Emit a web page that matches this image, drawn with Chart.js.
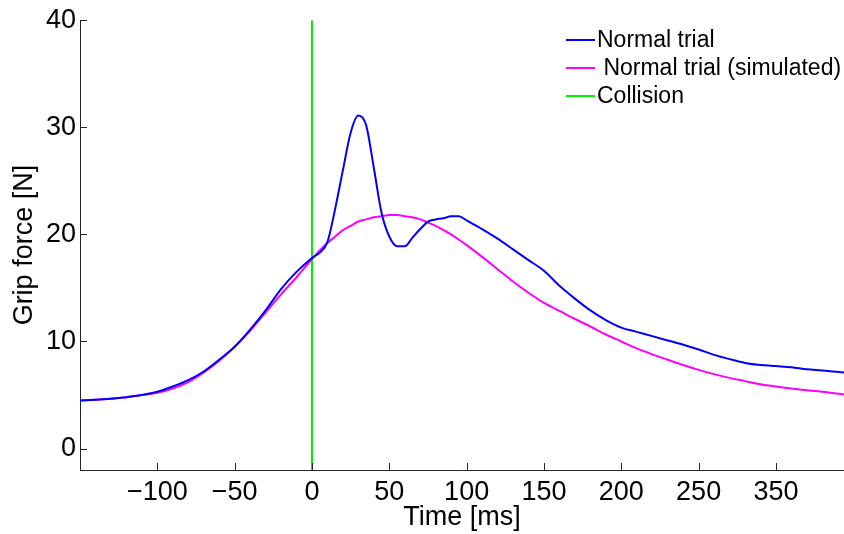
<!DOCTYPE html>
<html>
<head>
<meta charset="utf-8">
<script src="https://cdn.jsdelivr.net/npm/chart.js@4.4.1/dist/chart.umd.min.js"></script>
<style>
  html, body { margin: 0; padding: 0; background: #fff; }
  #wrap { width: 844px; height: 534px; position: relative; }
</style>
</head>
<body>
<div id="wrap"><canvas id="grip"></canvas></div>
<script>
/* ── DATA ───────────────────────────── */
const timeMs = [-150, -140, -130, -120, -110, -100, -90, -80, -70, -60, -50, -40, -30, -20, -10,
    0, 5, 10, 15, 20, 25, 30, 35, 40, 45, 50, 55, 60, 65, 70, 75, 80, 85, 90, 95, 100,
    110, 120, 130, 140, 150, 160, 170, 180, 190, 200, 210, 220, 230, 240, 250,
    260, 270, 280, 290, 300, 310, 320, 330, 344];

const normalTrial = [4.5, 4.55, 4.65, 4.8, 5.0, 5.3, 5.8, 6.4, 7.2, 8.3, 9.5, 11.1, 12.9, 14.9, 16.5,
    17.8, 18.3, 19.3, 22.4, 26.0, 29.5, 31.1, 30.2, 26.2, 22.0, 19.8, 18.9, 18.9, 19.7, 20.5, 21.2, 21.4, 21.5, 21.7, 21.7, 21.3,
    20.5, 19.6, 18.6, 17.6, 16.6, 15.2, 14.0, 12.9, 12.0, 11.3, 10.9, 10.5, 10.1, 9.7, 9.25,
    8.75, 8.35, 8.0, 7.8, 7.7, 7.6, 7.4, 7.3, 7.1];

const normalSimulated = [4.5, 4.55, 4.65, 4.8, 5.0, 5.2, 5.6, 6.2, 7.1, 8.2, 9.5, 11.0, 12.7, 14.4, 16.0,
    17.7, 18.5, 19.2, 19.8, 20.4, 20.8, 21.2, 21.4, 21.6, 21.7, 21.8, 21.8, 21.7, 21.6, 21.4, 21.1, 20.8, 20.4, 20.0, 19.5, 19.0,
    17.9, 16.75, 15.6, 14.55, 13.6, 12.85, 12.1, 11.4, 10.65, 10.0, 9.35, 8.8, 8.3, 7.8, 7.35,
    6.95, 6.6, 6.3, 6.0, 5.8, 5.6, 5.45, 5.3, 5.05];

const collisionTime = 0;
const yRange = [-2, 40];
const xRange = [-150, 344];

const xTickValues = [-100, -50, 0, 50, 100, 150, 200, 250, 300];
const xTickLabels = ['\u2212100', '\u221250', '0', '50', '100', '150', '200', '250', '350'];
const yTickValues = [0, 10, 20, 30, 40];

const seriesLabels = ['Normal trial', ' Normal trial (simulated)', 'Collision'];

/* ── HELPERS ───────────────────────────── */
const FONT = "'Liberation Sans', Arial, Helvetica, sans-serif";
const toPoints = (xs, ys) => xs.map((x, i) => ({ x, y: ys[i] }));

// ticks pointing into the plot, like the original figure
const innerTicks = {
    id: 'innerTicks',
    afterDatasetsDraw(chart) {
        const { ctx, scales: { x, y }, chartArea } = chart;
        ctx.save();
        ctx.strokeStyle = '#262626';
        ctx.lineWidth = 1;
        ctx.beginPath();
        xTickValues.forEach(v => {
            const px = Math.round(x.getPixelForValue(v)) + 0.5;
            ctx.moveTo(px, chartArea.bottom);
            ctx.lineTo(px, chartArea.bottom - 7);
        });
        yTickValues.forEach(v => {
            const py = Math.round(y.getPixelForValue(v)) + 0.5;
            ctx.moveTo(chartArea.left, py);
            ctx.lineTo(chartArea.left + 7, py);
        });
        ctx.stroke();
        ctx.restore();
    }
};

// legend inside the axes, top right
const insideLegend = {
    id: 'insideLegend',
    afterDraw(chart) {
        const { ctx } = chart;
        ctx.save();
        ctx.font = '23px ' + FONT;
        ctx.textBaseline = 'middle';
        ctx.fillStyle = '#000';
        chart.data.datasets.forEach((ds, i) => {
            const yy = 40 + i * 28;
            ctx.strokeStyle = ds.borderColor;
            ctx.lineWidth = 2;
            ctx.beginPath();
            ctx.moveTo(566, yy);
            ctx.lineTo(595, yy);
            ctx.stroke();
            ctx.fillText(ds.label, 597, yy + 1);
        });
        ctx.restore();
    }
};

/* ── CHART ───────────────────────────── */
Chart.defaults.font.family = FONT;
Chart.defaults.color = '#000';

const lineStyle = { borderWidth: 2, pointRadius: 0, tension: 0.4, cubicInterpolationMode: 'monotone', fill: false };

new Chart(document.getElementById('grip'), {
    type: 'line',
    data: {
        datasets: [
            { label: seriesLabels[0], data: toPoints(timeMs, normalTrial), borderColor: '#0000ff', ...lineStyle },
            { label: seriesLabels[1], data: toPoints(timeMs, normalSimulated), borderColor: '#ff00ff', ...lineStyle },
            { label: seriesLabels[2], data: toPoints([collisionTime, collisionTime], yRange), borderColor: '#00ee00', borderWidth: 2, pointRadius: 0, tension: 0 }
        ]
    },
    options: {
        responsive: true,
        maintainAspectRatio: false,
        animation: false,
        layout: { padding: { top: 20, right: 0, left: 0, bottom: 0 } },
        plugins: { legend: { display: false }, tooltip: { enabled: false } },
        scales: {
            x: {
                type: 'linear',
                min: xRange[0], max: xRange[1],
                afterBuildTicks: s => { s.ticks = xTickValues.map(v => ({ value: v })); },
                afterFit: s => { s.height = 64; },
                ticks: {
                    autoSkip: false, maxRotation: 0, padding: 6,
                    font: { size: 27 },
                    callback: v => xTickLabels[xTickValues.indexOf(v)]
                },
                grid: { display: false, drawTicks: false },
                border: { display: true, color: '#262626', width: 1 },
                title: { display: true, text: 'Time [ms]', font: { size: 27 }, padding: { top: -8, bottom: 0 } }
            },
            y: {
                min: yRange[0], max: yRange[1],
                afterBuildTicks: s => { s.ticks = yTickValues.map(v => ({ value: v })); },
                afterFit: s => { s.width = 80; },
                ticks: { padding: 4, font: { size: 27 } },
                grid: { display: false, drawTicks: false },
                border: { display: true, color: '#262626', width: 1 },
                title: { display: true, text: 'Grip force [N]', font: { size: 27 }, padding: { top: 8, bottom: 0 } }
            }
        }
    },
    plugins: [innerTicks, insideLegend]
});
</script>
</body>
</html>
